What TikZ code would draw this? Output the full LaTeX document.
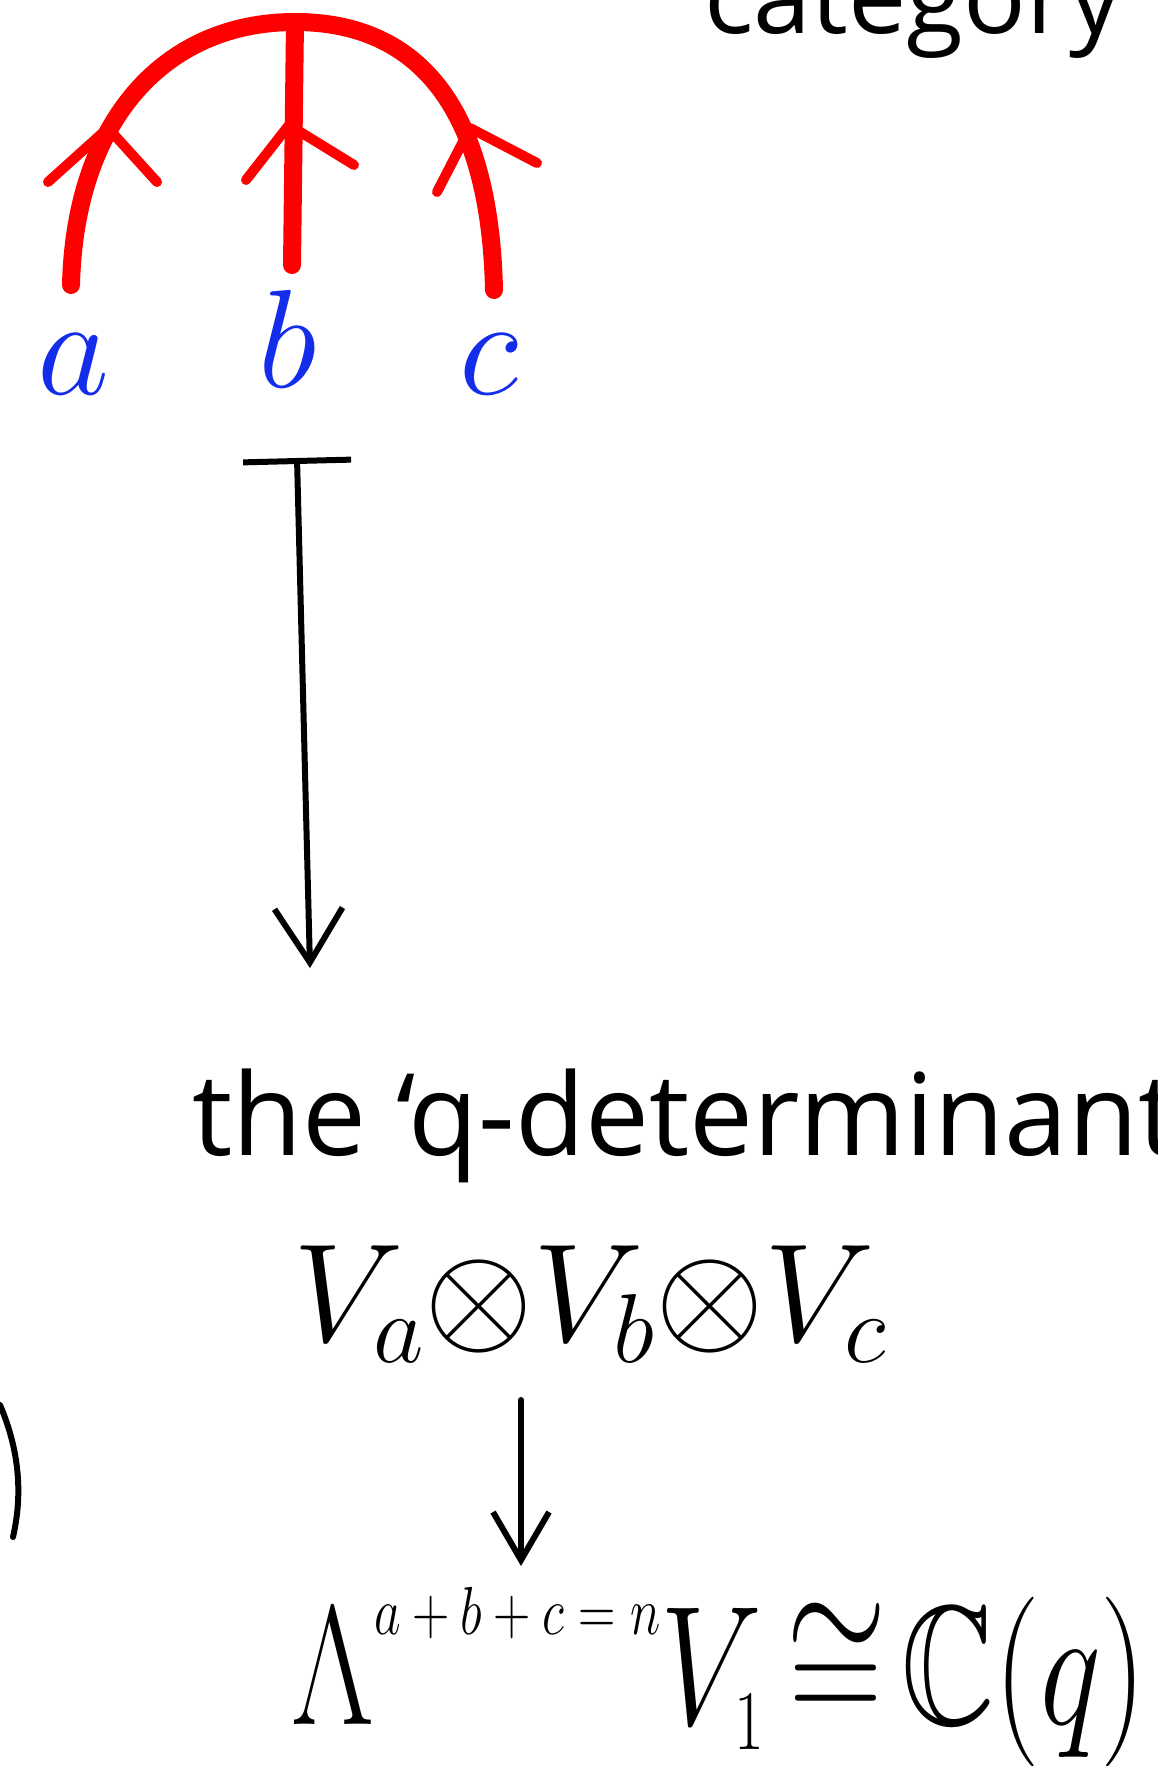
\RequirePackage{fix-cm}
\documentclass[tikz,border=0pt]{standalone}
\usepackage{amsmath, amssymb}
\usepackage{graphicx}
\usepackage{fontspec}
\usepackage{xcolor}
\usepackage{tikz}
\usetikzlibrary{arrows.meta}
\DeclareFontFamily{U}{msb}{}
\DeclareFontShape{U}{msb}{m}{n}{<-> msbm10}{}
\newfontfamily\hand{Open Sans}
\definecolor{inkblue}{RGB}{20,45,235}
\newcommand{\CC}{\mathbb{C}}

\begin{document}
\begin{tikzpicture}[x=0.5pt, y=-0.5pt,
    ink/.style={line width=3pt, line cap=round, line join=round},
    strand/.style={red, line width=9pt, line cap=round},
    chev/.style={red, line width=5pt, line cap=round, line join=round},
    leaf/.style={text=inkblue, inner sep=0pt, anchor=base, font=\fontsize{70}{84}\selectfont}]
    \useasboundingbox (0,0) rectangle (1157,1766);
    \clip (0,0) rectangle (1157,1766);

    \node[anchor=base west, inner sep=0pt, font=\hand\fontsize{52}{62}\selectfont] (cat) at (704,34) {category};

    \node[leaf] (leafa) at (73,394) {$a$};
    \node[leaf] (leafb) at (288,387) {$b$};
    \node[leaf] (leafc) at (489,394) {$c$};

    \coordinate (vertex) at (295,22);
    \coordinate (enda) at (71,285);
    \coordinate (endb) at (292,265);
    \coordinate (endc) at (494,290);

    \draw[strand] (enda) .. controls (75,120) and (165,22) .. (vertex) .. controls (420,22) and (490,110) .. (endc);
    \draw[strand] (vertex) -- (endb);
    \draw[chev] (48,182) -- (108,128) -- (157,182);
    \draw[chev] (246,180) -- (289,125) -- (354,165);
    \draw[chev] (437,192) -- (470,128) -- (537,163);

    \coordinate (mapsfrom) at (297,458);
    \coordinate (mapsto) at (310,968);
    \draw[ink, {Bar[width=54pt]}-{Straight Barb[length=27pt, width=34pt]}] (mapsfrom) -- (mapsto);

    \node[anchor=base west, inner sep=0pt, font=\hand\fontsize{57}{68}\selectfont] (det) at (192,1155) {the ‘q-determinant};

    \node[anchor=base west, inner sep=0pt, font=\fontsize{70}{84}\selectfont] (tensor) at (293,1341) {$V_a{\otimes}V_b{\otimes}V_c$};

    \coordinate (down) at (521,1400);
    \coordinate (downtip) at (521,1566);
    \draw[ink, -{Straight Barb[length=24pt, width=28pt]}] (down) -- (downtip);

    \node[anchor=base west, inner sep=0pt, font=\fontsize{85}{100}\selectfont] (wedge) at (291,1724) {\scalebox{0.76}[1]{$\Lambda$\raisebox{45pt}{\fontsize{34}{36}\selectfont$a+b+c=n$}$V_{\scriptscriptstyle 1}\mkern3mu{\cong}\mkern2mu\CC(q)$}};

    \draw[ink] (0,1405) .. controls (15,1440) and (25,1485) .. (13,1537);
\end{tikzpicture}
\end{document}
